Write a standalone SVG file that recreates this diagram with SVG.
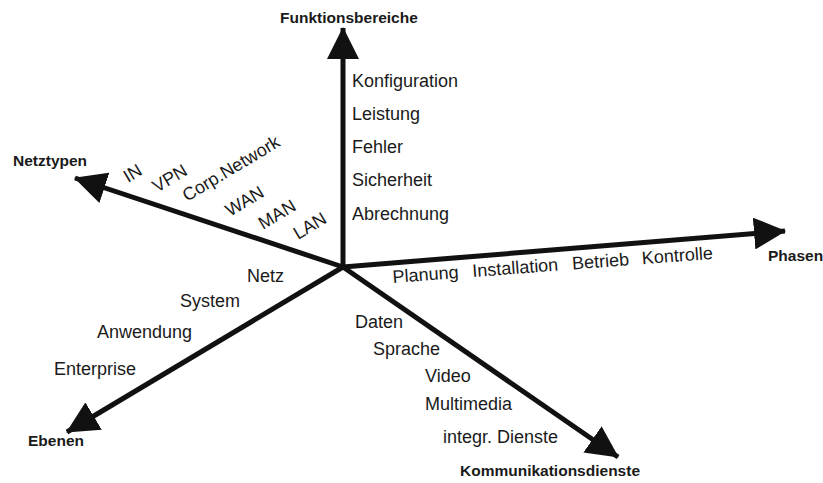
<svg xmlns="http://www.w3.org/2000/svg" width="823" height="483" viewBox="0 0 823 483">
  <style>
    .axis { stroke: #111; stroke-width: 5; fill: none; marker-end: url(#head); }
    .title { font-family: "Liberation Sans", Arial, sans-serif; font-weight: bold; font-size: 15.5px; fill: #1a1a1a; }
    .item { font-family: "Liberation Sans", Arial, sans-serif; font-size: 18px; fill: #1a1a1a; }
  </style>
  <defs>
    <marker id="head" markerUnits="userSpaceOnUse" markerWidth="32" markerHeight="32" viewBox="0 0 32 32" refX="31" refY="16" orient="auto">
      <path d="M0,0 L32,16 L0,32 Z" fill="#111"/>
    </marker>
  </defs>

  <!-- five axes radiating from the common origin -->
  <g id="connectors">
    <line class="axis" x1="343" y1="267" x2="343" y2="28"/>
    <line class="axis" x1="343" y1="267" x2="785" y2="231"/>
    <line class="axis" x1="343" y1="267" x2="75" y2="178"/>
    <line class="axis" x1="343" y1="267" x2="67" y2="432"/>
    <line class="axis" x1="343" y1="267" x2="618" y2="457"/>
  </g>

  <!-- vertical axis: functional areas -->
  <g id="funktionsbereiche">
    <text class="title" x="280" y="23">Funktionsbereiche</text>
    <text class="item" x="352" y="87">Konfiguration</text>
    <text class="item" x="352" y="120">Leistung</text>
    <text class="item" x="352" y="153">Fehler</text>
    <text class="item" x="352" y="186">Sicherheit</text>
    <text class="item" x="352" y="220">Abrechnung</text>
  </g>

  <!-- right axis: phases -->
  <g id="phasen">
    <text class="title" x="768" y="261">Phasen</text>
    <g transform="translate(393,283) rotate(-4.3)">
      <text class="item" x="0" y="0">Planung</text>
      <text class="item" x="80" y="0">Installation</text>
      <text class="item" x="180" y="0">Betrieb</text>
      <text class="item" x="250" y="0">Kontrolle</text>
    </g>
  </g>

  <!-- upper left axis: network types -->
  <g id="netztypen">
    <text class="title" x="13" y="166">Netztypen</text>
    <text class="item" transform="translate(128,183) rotate(-31)">IN</text>
    <text class="item" transform="translate(157,193) rotate(-31)">VPN</text>
    <text class="item" transform="translate(187,202) rotate(-31)">Corp.Network</text>
    <text class="item" transform="translate(230,217) rotate(-31)">WAN</text>
    <text class="item" transform="translate(263,230) rotate(-31)">MAN</text>
    <text class="item" transform="translate(298,240) rotate(-31)">LAN</text>
  </g>

  <!-- lower left axis: levels -->
  <g id="ebenen">
    <text class="title" x="28" y="446">Ebenen</text>
    <text class="item" x="247" y="282">Netz</text>
    <text class="item" x="180" y="307">System</text>
    <text class="item" x="97" y="338">Anwendung</text>
    <text class="item" x="54" y="375">Enterprise</text>
  </g>

  <!-- lower right axis: communication services -->
  <g id="kommunikationsdienste">
    <text class="title" x="460" y="476">Kommunikationsdienste</text>
    <text class="item" x="355" y="328">Daten</text>
    <text class="item" x="373" y="355">Sprache</text>
    <text class="item" x="425" y="382">Video</text>
    <text class="item" x="425" y="410">Multimedia</text>
    <text class="item" x="443" y="443">integr. Dienste</text>
  </g>
</svg>
